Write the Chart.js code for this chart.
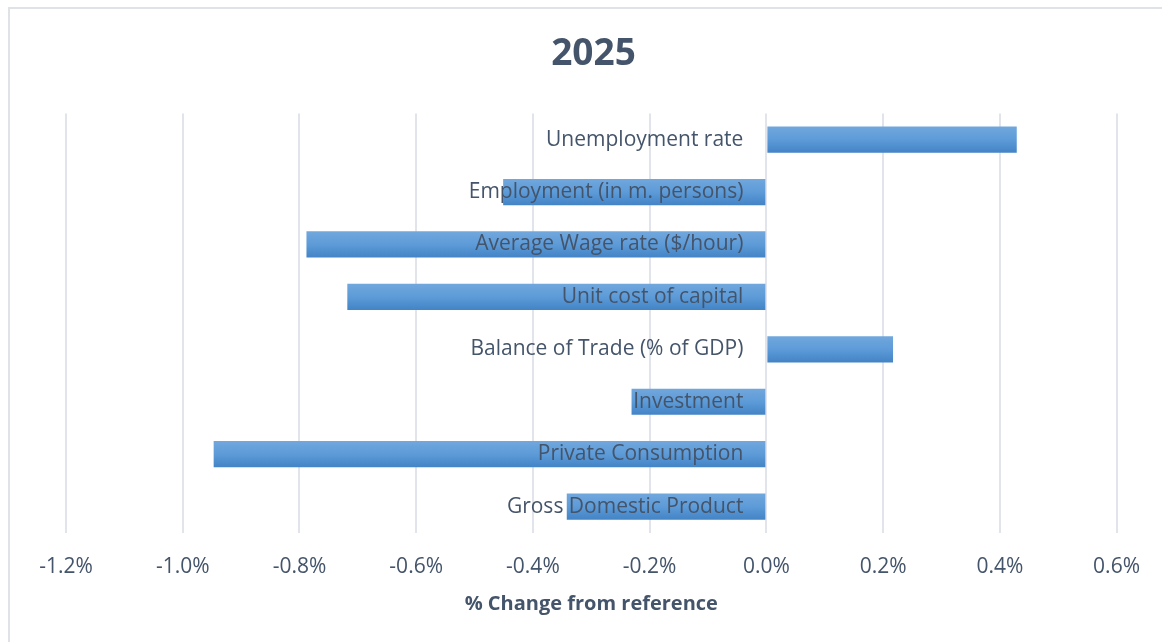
<!DOCTYPE html>
<html lang="en">
<head>
    <meta charset="UTF-8" />
    <title>2025 - % Change from reference</title>
    <script src="https://cdn.jsdelivr.net/npm/chart.js"></script>
    <style>
        html, body {
            margin: 0;
            padding: 0;
            background: #ffffff;
            overflow: hidden;
        }

        .frame {
            position: absolute;
            left: 8px;
            top: 7px;
            width: 1170px;
            height: 650px;
            border: 2px solid #dfe3e8;
            box-sizing: border-box;
        }

        #grafico {
            position: absolute;
            left: 0;
            top: 0;
        }
    </style>
</head>
<body>
    <div class="frame"></div>
    <canvas id="grafico" width="1162" height="642"></canvas>

    <script>
        // Categories listed top to bottom
        const categorias = [
            'Unemployment rate',
            'Employment (in m. persons)',
            'Average Wage rate ($/hour)',
            'Unit cost of capital',
            'Balance of Trade (% of GDP)',
            'Investment',
            'Private Consumption',
            'Gross Domestic Product'
        ];

        // % change from reference, 2025
        const cambios = [0.429, -0.451, -0.788, -0.718, 0.217, -0.231, -0.947, -0.342];

        const ejeMin = -1.2;
        const ejeMax = 0.6;
        const ejePaso = 0.2;

        const colorTexto = '#44546a';
        const fuente = "'Open Sans', sans-serif";

        // Category names drawn beside the zero line, over the bars
        const etiquetasEnCero = {
            id: 'etiquetasEnCero',
            afterDatasetsDraw(chart) {
                const { ctx, scales: { x, y } } = chart;
                const x0 = x.getPixelForValue(0);
                ctx.save();
                ctx.font = `21px ${fuente}`;
                ctx.fillStyle = colorTexto;
                ctx.textAlign = 'right';
                ctx.textBaseline = 'middle';
                categorias.forEach((nombre, i) => {
                    ctx.fillText(nombre, x0 - 23, y.getPixelForValue(i));
                });
                ctx.restore();
            }
        };

        // Vertical gradient for every bar, lighter on top
        function degradado(context) {
            const chart = context.chart;
            if (!chart.chartArea) return '#5b9bd5';
            const y = chart.scales.y.getPixelForValue(context.dataIndex);
            const g = chart.ctx.createLinearGradient(0, y - 13, 0, y + 13);
            g.addColorStop(0, '#71a7dd');
            g.addColorStop(0.5, '#5d9bd8');
            g.addColorStop(1, '#4384c6');
            return g;
        }

        new Chart(document.getElementById('grafico'), {
            type: 'bar',
            data: {
                labels: categorias,
                datasets: [{
                    data: cambios,
                    backgroundColor: degradado,
                    borderWidth: 0,
                    barPercentage: 0.5,
                    categoryPercentage: 1
                }]
            },
            options: {
                indexAxis: 'y',
                responsive: false,
                animation: false,
                layout: {
                    padding: { left: 66, right: 41, top: 0, bottom: 0 }
                },
                plugins: {
                    legend: { display: false },
                    tooltip: { enabled: false },
                    title: {
                        display: true,
                        text: '2025',
                        color: colorTexto,
                        font: { family: fuente, size: 37, weight: 'bold' },
                        padding: { top: 32, bottom: 37 }
                    }
                },
                scales: {
                    x: {
                        min: ejeMin,
                        max: ejeMax,
                        ticks: {
                            stepSize: ejePaso,
                            color: colorTexto,
                            font: { family: fuente, size: 21 },
                            padding: 22,
                            callback: v => (Math.abs(v) < 1e-9 ? 0 : v).toFixed(1) + '%'
                        },
                        grid: {
                            color: '#e1e4ea',
                            lineWidth: 2,
                            drawTicks: false
                        },
                        border: { display: false },
                        title: {
                            display: true,
                            text: '% Change from reference',
                            color: colorTexto,
                            font: { family: fuente, size: 20, weight: 'bold' },
                            padding: { top: -10, bottom: 26 }
                        }
                    },
                    y: {
                        display: false
                    }
                }
            },
            plugins: [etiquetasEnCero]
        });
    </script>
</body>
</html>
